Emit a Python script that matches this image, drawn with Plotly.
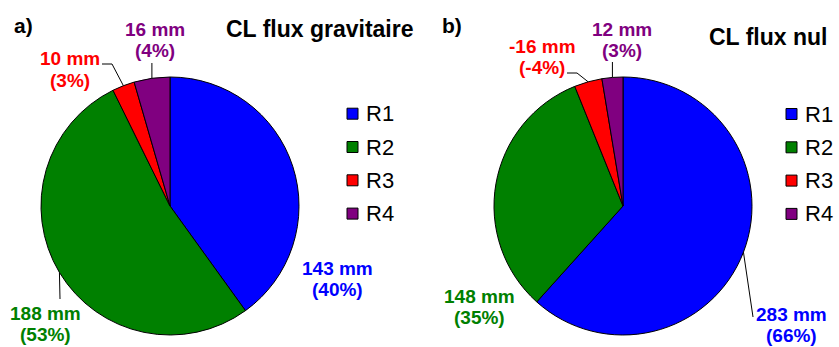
import math
import plotly.graph_objects as go

# Water balance terms (mm) for the two boundary conditions
labels = ["R1", "R2", "R3", "R4"]
colors = ["#0000FF", "#008000", "#FF0000", "#800080"]
values_grav = [143, 188, 10, 16]      # a) CL flux gravitaire
values_nul = [283, 148, -16, 12]      # b) CL flux nul
titles = ["CL flux gravitaire", "CL flux nul"]
panel_tags = ["a)", "b)"]

W, H = 839, 347
FONT = "Liberation Sans, Arial, sans-serif"
LINE_GAP = 21.5


def px(x):
    return x / W


def py(y):
    return 1 - y / H


# pie geometry (pixels)
panels = [
    dict(values=values_grav, cx=170, cy=206, r=129,
         title_xy=(319, 29), tag_xy=(23, 25), legend_x=347, legend_y0=113.7,
         label_xy={"R1": (337, 268), "R2": (45, 313), "R3": (70, 59), "R4": (155, 29)},
         leader={"R2": [(60, 299)], "R3": [(112, 64), (102, 64)], "R4": [None, 63]}),
    dict(values=values_nul, cx=623, cy=206, r=129,
         title_xy=(768, 37), tag_xy=(452, 26), legend_x=786, legend_y0=114,
         label_xy={"R1": (791, 314), "R2": (479, 296), "R3": (542, 46), "R4": (622, 29)},
         leader={"R1": [(753, 317)], "R3": [(577, 73), (567, 73)], "R4": [None, 62]}),
]

fig = go.Figure()
shapes = []
annotations = []

for k, p in enumerate(panels):
    vals = p["values"]
    mags = [abs(v) for v in vals]
    cx, cy, r = p["cx"], p["cy"], p["r"]
    fig.add_trace(go.Pie(
        labels=labels, values=mags, sort=False, direction="clockwise", rotation=0,
        marker=dict(colors=colors, line=dict(color="black", width=1)),
        textinfo="none", showlegend=False,
        customdata=vals, hovertemplate="%{label}: %{customdata} mm<extra></extra>",
        domain=dict(x=[px(cx - r), px(cx + r)], y=[py(cy + r), py(cy - r)]),
    ))

    total_mag = sum(mags)
    total_signed = sum(vals)
    start = 0.0
    for lab, v, m, col in zip(labels, vals, mags, colors):
        span = 360.0 * m / total_mag
        mid = math.radians(start + span / 2)
        start += span
        ex, ey = cx + r * math.sin(mid), cy - r * math.cos(mid)

        # leader line from the slice edge to its label
        if lab in p["leader"]:
            pts = p["leader"][lab]
            if pts[0] is None:          # vertical tick straight up
                pts = [(ex, pts[1])]
            path = f"M{px(ex)},{py(ey)}" + "".join(f" L{px(x)},{py(y)}" for x, y in pts)
            shapes.append(dict(type="path", xref="paper", yref="paper", path=path,
                               line=dict(color="black", width=1)))

        pct = round(100 * v / total_signed)
        lx, ly = p["label_xy"][lab]
        for line_txt, dy in ((f"{v} mm", 0), (f"({pct}%)", LINE_GAP)):
            annotations.append(dict(
                x=px(lx), y=py(ly + dy), xref="paper", yref="paper", text=f"<b>{line_txt}</b>",
                showarrow=False, xanchor="center", yanchor="middle",
                font=dict(family=FONT, size=19, color=col)))

    # legend: colour squares + labels
    for i, (lab, col) in enumerate(zip(labels, colors)):
        yc = p["legend_y0"] + 33.3 * i
        x0 = p["legend_x"]
        shapes.append(dict(type="rect", xref="paper", yref="paper",
                           x0=px(x0), x1=px(x0 + 11), y0=py(yc + 5.5), y1=py(yc - 5.5),
                           fillcolor=col, line=dict(color="black", width=1)))
        annotations.append(dict(x=px(x0 + 17), y=py(yc), xref="paper", yref="paper",
                                text=lab, showarrow=False, xanchor="left", yanchor="middle",
                                font=dict(family=FONT, size=22, color="black")))

    tx, ty = p["title_xy"]
    annotations.append(dict(x=px(tx), y=py(ty), xref="paper", yref="paper",
                            text=f"<b>{titles[k]}</b>", showarrow=False,
                            xanchor="center", yanchor="middle",
                            font=dict(family=FONT, size=23, color="black")))
    gx, gy = p["tag_xy"]
    annotations.append(dict(x=px(gx), y=py(gy), xref="paper", yref="paper",
                            text=f"<b>{panel_tags[k]}</b>", showarrow=False,
                            xanchor="center", yanchor="middle",
                            font=dict(family=FONT, size=21, color="black")))

fig.update_layout(
    width=W, height=H, margin=dict(l=0, r=0, t=0, b=0),
    paper_bgcolor="white", plot_bgcolor="white",
    shapes=shapes, annotations=annotations, showlegend=False,
)

fig.write_html("out.html")
